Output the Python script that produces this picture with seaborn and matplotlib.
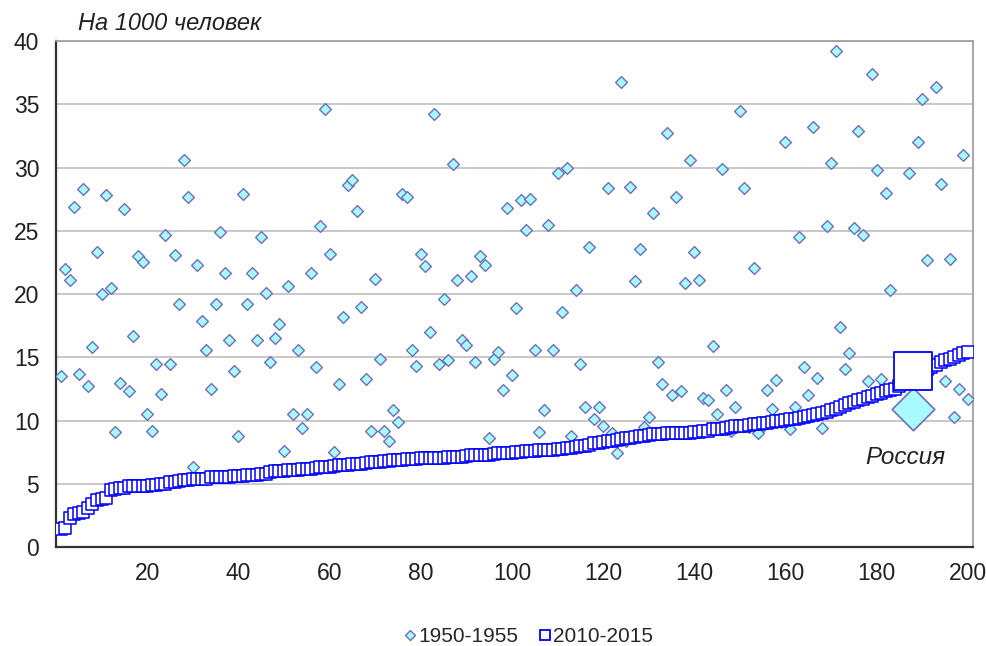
import numpy as np
import seaborn as sns
import matplotlib.pyplot as plt
from matplotlib.lines import Line2D

sns.set_style("white")
plt.rcParams['font.family'] = ['Liberation Sans', 'DejaVu Sans']

# Страны, упорядоченные по значению 2010-2015
rank = np.arange(1, 201)

# 1950-1955, на 1000 человек
rate_1950 = [
    13.5, 22.0, 21.1, 26.9, 13.7, 28.3, 12.7, 15.8, 23.3, 20.0, 27.8, 20.5, 9.1, 13.0, 26.7, 12.3,
    16.7, 23.0, 22.5, 10.5, 9.2, 14.5, 12.1, 24.7, 14.5, 23.1, 19.2, 30.6, 27.7, 6.3, 22.3, 17.9, 15.6,
    12.5, 19.2, 24.9, 21.7, 16.4, 13.9, 8.8, 27.9, 19.2, 21.7, 16.4, 24.5, 20.1, 14.6, 16.5, 17.6,
    7.6, 20.6, 10.5, 15.6, 9.4, 10.5, 21.7, 14.2, 25.4, 34.6, 23.2, 7.5, 12.9, 18.2, 28.6, 29.0, 26.6, 19.0,
    13.3, 9.2, 21.2, 14.9, 9.2, 8.4, 10.8, 9.9, 27.9, 27.7, 15.6, 14.3, 23.2, 22.2, 17.0, 34.2,
    14.5, 19.6, 14.8, 30.3, 21.1, 16.4, 16.0, 21.4, 14.6, 23.0, 22.3, 8.6, 14.9, 15.4, 12.4, 26.8,
    13.6, 18.9, 27.4, 25.1, 27.5, 15.6, 9.1, 10.8, 25.5, 15.6, 29.6, 18.6, 30.0, 8.8, 20.3, 14.5,
    11.1, 23.7, 10.1, 11.1, 9.6, 28.4, 9.0, 7.4, 36.8, 8.4, 28.5, 21.0, 23.6, 9.5, 10.3, 26.4, 14.6, 12.9, 32.7,
    12.0, 27.7, 12.3, 20.9, 30.6, 23.3, 21.1, 11.8, 11.6, 15.9, 10.5, 29.9, 12.4, 9.2, 11.1, 34.5,
    28.4, 9.5, 22.1, 9.0, 9.6, 12.4, 10.9, 13.2, 9.9, 32.0, 9.3, 11.1, 24.5, 14.2, 12.0, 33.2,
    13.4, 9.4, 25.4, 30.4, 39.2, 17.4, 14.1, 15.3, 25.2, 32.9, 24.7, 13.1, 37.4, 29.8, 13.3, 28.0,
    20.3, 12.4, 12.6, 13.0, 29.6, 10.9, 32.0, 35.4, 22.7, 14.0, 36.4, 28.7, 13.1, 22.8, 10.3, 12.5, 31.0, 11.7,
]

# 2010-2015, на 1000 человек
rate_2010 = [
    1.4, 1.5, 2.3, 2.6, 2.7, 2.8, 3.1, 3.4, 3.7, 3.8, 3.9,
    4.5, 4.6, 4.7, 4.7, 4.8, 4.8, 4.8, 4.8, 4.8, 4.9, 4.9,
    5.0, 5.0, 5.1, 5.1, 5.2, 5.3, 5.3, 5.35, 5.4, 5.4, 5.4,
    5.5, 5.5, 5.5, 5.5, 5.55, 5.6, 5.6, 5.65, 5.7, 5.7, 5.7, 5.75, 5.8,
    5.9, 6.0, 6.0, 6.0, 6.05, 6.1, 6.1, 6.15, 6.2, 6.2, 6.25, 6.3, 6.3, 6.35,
    6.4, 6.45, 6.5, 6.5, 6.55, 6.6, 6.6, 6.65, 6.7, 6.7, 6.75, 6.8, 6.8, 6.85, 6.9, 6.9,
    6.95, 6.95, 6.95, 7.0, 7.0, 7.0, 7.0, 7.05, 7.05, 7.1, 7.1, 7.15, 7.15, 7.2,
    7.25, 7.25, 7.3, 7.3, 7.3, 7.35, 7.4, 7.4, 7.45, 7.45, 7.5, 7.5,
    7.55, 7.6, 7.6, 7.65, 7.65, 7.7, 7.7, 7.75, 7.75, 7.8, 7.85, 7.9, 7.95,
    8.0, 8.1, 8.2, 8.25, 8.3, 8.35, 8.4, 8.45, 8.5, 8.6, 8.65, 8.7, 8.75,
    8.8, 8.85, 8.9, 8.95, 8.95, 9.0, 9.0, 9.0, 9.0, 9.05, 9.05, 9.1, 9.1, 9.15, 9.15,
    9.3, 9.3, 9.35, 9.4, 9.45, 9.55, 9.6, 9.6, 9.65, 9.7, 9.75, 9.8, 9.8, 9.85,
    9.95, 10.0, 10.05, 10.1, 10.15, 10.2, 10.25, 10.35, 10.4, 10.5, 10.6, 10.7, 10.8,
    10.95, 11.1, 11.25, 11.35, 11.5, 11.6, 11.7, 11.85, 11.95, 12.1, 12.2, 12.3, 12.4, 12.5,
    12.7, 13.0, 13.3, 13.9, 13.95, 14.0, 14.1, 14.2, 14.4, 14.6, 14.75, 14.9, 15.05, 15.2, 15.3, 15.4,
]

russia_rank = 188
russia_1950 = 10.9
russia_2010 = 13.9

labels = ["1950-1955", "2010-2015"]
diamond_face = "#a8fafd"
diamond_edge = "#6e6ebc"
square_edge = "#0000ff"

fig = plt.figure(figsize=(9.87, 6.46), dpi=100)
ax = fig.add_axes([0.0567, 0.1533, 0.929, 0.783])

sns.scatterplot(x=rank, y=rate_1950, marker="D", s=36, color=diamond_face,
                edgecolor=diamond_edge, linewidth=1.0, ax=ax, zorder=3)
sns.scatterplot(x=rank, y=rate_2010, marker="s", s=70, color="white",
                edgecolor=square_edge, linewidth=1.1, ax=ax, zorder=4)

# Россия
sns.scatterplot(x=[russia_rank], y=[russia_1950], marker="D", s=470, color=diamond_face,
                edgecolor=diamond_edge, linewidth=1.2, ax=ax, zorder=5)
sns.scatterplot(x=[russia_rank], y=[russia_2010], marker="s", s=760, color="white",
                edgecolor=square_edge, linewidth=1.3, ax=ax, zorder=6)
ax.text(186.3, 7.1, "Россия", fontsize=17.5, fontstyle="italic", color="#222222",
        ha="center", va="center")

ax.set_xlim(0, 201.1)
ax.set_ylim(0, 40)
ax.set_xticks(range(20, 201, 20))
ax.set_yticks(range(0, 41, 5))
ax.tick_params(axis="both", length=0, labelsize=16.5, colors="#222222")
ax.tick_params(axis="y", pad=12)
ax.tick_params(axis="x", pad=11)
ax.grid(axis="y", color="#c4c4c4", linewidth=1.3)
ax.set_axisbelow(True)

for side in ["top", "right"]:
    ax.spines[side].set_color("#a0a0a0")
    ax.spines[side].set_linewidth(1.3)
for side in ["left", "bottom"]:
    ax.spines[side].set_color("#333333")
    ax.spines[side].set_linewidth(1.6)

fig.text(0.079, 0.964, "На 1000 человек", fontsize=17, fontstyle="italic",
         color="#222222", ha="left", va="center")

handles = [
    Line2D([], [], linestyle="none", marker="D", markersize=5,
           markerfacecolor=diamond_face, markeredgecolor=diamond_edge, markeredgewidth=1.0),
    Line2D([], [], linestyle="none", marker="s", markersize=6.5,
           markerfacecolor="white", markeredgecolor=square_edge, markeredgewidth=1.3),
]
fig.legend(handles, labels, loc="center", bbox_to_anchor=(0.535, 0.015), ncol=2,
           frameon=False, fontsize=15, handletextpad=0.05, columnspacing=0.9,
           handlelength=0.7)

fig.savefig("out.png", dpi=100)
